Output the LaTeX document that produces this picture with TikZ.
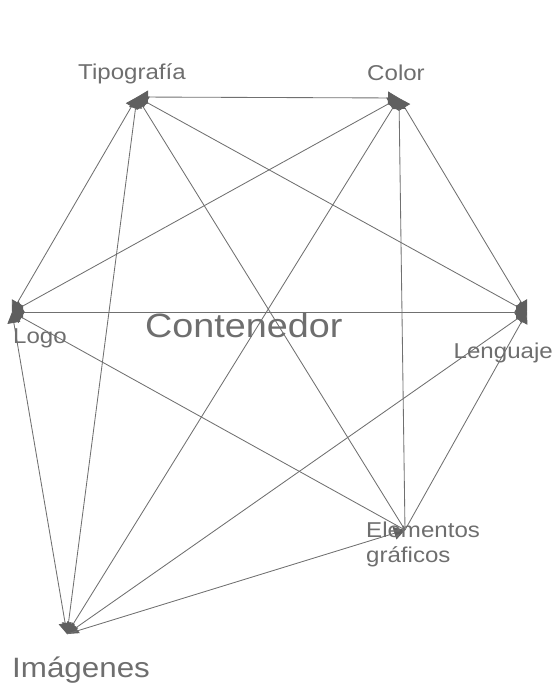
\documentclass[tikz,border=0pt]{standalone}
\usepackage{fontspec}
\newfontfamily\lbl[FakeStretch=1.12]{Liberation Sans}
\usetikzlibrary{arrows.meta}
\definecolor{ink}{HTML}{6E6E6E}
\definecolor{edgec}{HTML}{707070}
\definecolor{headc}{HTML}{5F5F5F}
\begin{document}
\begin{tikzpicture}[x=1pt,y=-1pt,
  headtip/.tip={Triangle[length=11pt,width=13pt,color=headc,fill=headc]},
  link/.style={draw=edgec,line width=0.85pt,-headtip},
  both/.style={draw=edgec,line width=0.85pt,headtip-headtip},
  lab/.style={text=ink,inner sep=0pt,font=\lbl\fontsize{21.5pt}{25pt}\selectfont},
  biglab/.style={text=ink,inner sep=0pt,font=\lbl\fontsize{28pt}{32pt}\selectfont},
  hugelab/.style={text=ink,inner sep=0pt,font=\lbl\fontsize{33.7pt}{38pt}\selectfont}]
\useasboundingbox (0,0) rectangle (554,686);
% points
\coordinate (T) at (137,97);
\coordinate (C) at (399,98);
\coordinate (Lo) at (12,312);
\coordinate (Le) at (527,312);
\coordinate (E) at (405,530);
\coordinate (I) at (67,634);
% edges
\draw[both] (T) -- (C);
\draw[both] (T) -- (Lo);
\draw[both] (T) -- (Le);
\draw[both] (T) -- (I);
\draw[both] (C) -- (Lo);
\draw[both] (C) -- (Le);
\draw[both] (C) -- (I);
\draw[both] (Lo) -- (Le);
\draw[both] (Lo) -- (I);
\draw[both] (Le) -- (I);
\draw[link] (E) -- (T);
\draw[link] (E) -- (C);
\draw[link] (E) -- (Le);
\draw[link] (E) -- (Lo);
\draw[link] (I) -- (E);
% labels
\node[lab,anchor=base] (tT) at (132,79) {Tipografía};
\node[lab,anchor=base] (tC) at (396,80) {Color};
\node[lab,anchor=base west] (tLo) at (13,343) {Logo};
\node[lab,anchor=base east] (tLe) at (553,358) {Lenguaje};
\node[lab,anchor=base west,align=left] (tE) at (366,562) {Elementos\\gráficos};
\node[biglab,anchor=base west] (tI) at (12,677) {Imágenes};
\node[hugelab,anchor=base west] (tCt) at (145,337) {Contenedor};
\end{tikzpicture}
\end{document}
